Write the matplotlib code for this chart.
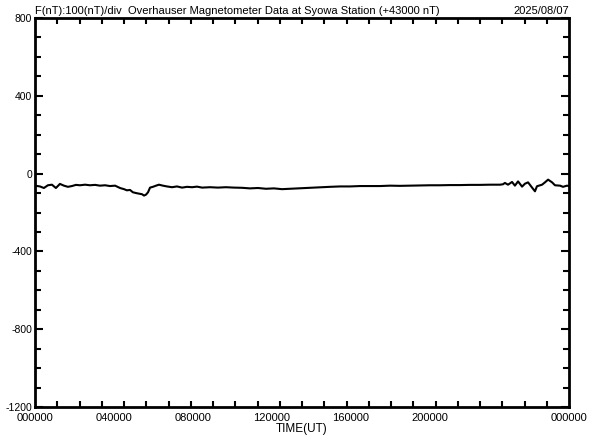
import numpy as np
import matplotlib
matplotlib.use("Agg")
import matplotlib.pyplot as plt
from matplotlib.ticker import MultipleLocator

plt.rcParams['font.family'] = ['Liberation Sans', 'DejaVu Sans']

# F (nT, offset from 43000) vs time of day in hours
hours = [0.00, 0.22, 0.40, 0.58, 0.76, 0.94, 1.12, 1.30, 1.48, 1.66, 1.84, 2.02,
         2.25, 2.47, 2.70, 2.92, 3.15, 3.37, 3.60, 3.82, 4.00, 4.13, 4.27, 4.40,
         4.54, 4.67, 4.81, 4.90, 4.99, 5.08, 5.17, 5.30, 5.44, 5.57, 5.75, 5.93,
         6.16, 6.38, 6.61, 6.83, 7.06, 7.28, 7.51, 7.87, 8.22, 8.58, 8.94, 9.30,
         9.66, 10.02, 10.38, 10.74, 11.10, 11.46, 11.82, 12.18, 12.54, 12.90,
         13.26, 13.71, 14.16, 14.61, 15.06, 15.51, 15.96, 16.40, 16.85, 17.30,
         17.75, 18.20, 18.65, 19.10, 19.55, 20.00, 20.45, 20.90, 21.03, 21.12,
         21.26, 21.44, 21.57, 21.71, 21.89, 22.02, 22.16, 22.34, 22.47, 22.56,
         22.79, 22.92, 23.06, 23.24, 23.37, 23.60, 23.73, 23.91, 24.00]
f_nt = [-62, -66, -74, -60, -57, -74, -53, -62, -68, -64, -58, -60,
        -57, -60, -58, -62, -60, -64, -62, -74, -80, -86, -84, -96,
        -100, -103, -106, -113, -108, -96, -72, -68, -62, -57, -62, -66,
        -70, -66, -72, -68, -70, -67, -72, -70, -72, -70, -72, -73,
        -76, -74, -78, -76, -80, -78, -76, -74, -72, -70,
        -68, -66, -66, -64, -64, -64, -62, -63, -62, -61,
        -60, -60, -59, -59, -58, -58, -57, -57, -55, -48,
        -57, -43, -62, -40, -67, -52, -45, -72, -91, -65,
        -57, -45, -31, -45, -60, -62, -68, -62, -64]

xlabels = ['000000', '040000', '080000', '120000', '160000', '200000', '000000']
label_step = 24 * 79 / 534.0
xlabel_pos = [i * label_step for i in range(6)] + [24]

fig = plt.figure(figsize=(5.92, 4.40), dpi=100)
ax = fig.add_axes([35 / 592, 1 - 407 / 440, 534 / 592, 389 / 440])

ax.plot(hours, f_nt, color='black', lw=1.5)

ax.set_xlim(0, 24)
ax.set_ylim(-1200, 800)

ax.set_xticks(xlabel_pos)
ax.set_xticklabels(xlabels, fontsize=8)
ax.xaxis.set_minor_locator(MultipleLocator(1))
ax.tick_params(axis='x', which='major', length=0, pad=4)
ax.tick_params(axis='x', which='minor', direction='in', length=4, width=1.5,
               top=True, bottom=True)

ax.set_yticks(np.arange(-1200, 801, 400))
ax.set_yticklabels([str(v) for v in range(-1200, 801, 400)], fontsize=7.5)
ax.yaxis.set_minor_locator(MultipleLocator(100))
ax.tick_params(axis='y', which='major', direction='in', length=6, width=1.5,
               left=True, right=True, pad=2)
ax.tick_params(axis='y', which='minor', direction='in', length=4, width=1.5,
               left=True, right=True)

for s in ax.spines.values():
    s.set_linewidth(2)

ax.set_xlabel('TIME(UT)', fontsize=8.5, labelpad=0)
ax.text(0, 1.005, 'F(nT):100(nT)/div  Overhauser Magnetometer Data at Syowa Station (+43000 nT)',
        transform=ax.transAxes, ha='left', va='bottom', fontsize=8)
ax.text(1.0, 1.005, '2025/08/07', transform=ax.transAxes, ha='right', va='bottom', fontsize=8)

fig.savefig('out.png', dpi=100)
